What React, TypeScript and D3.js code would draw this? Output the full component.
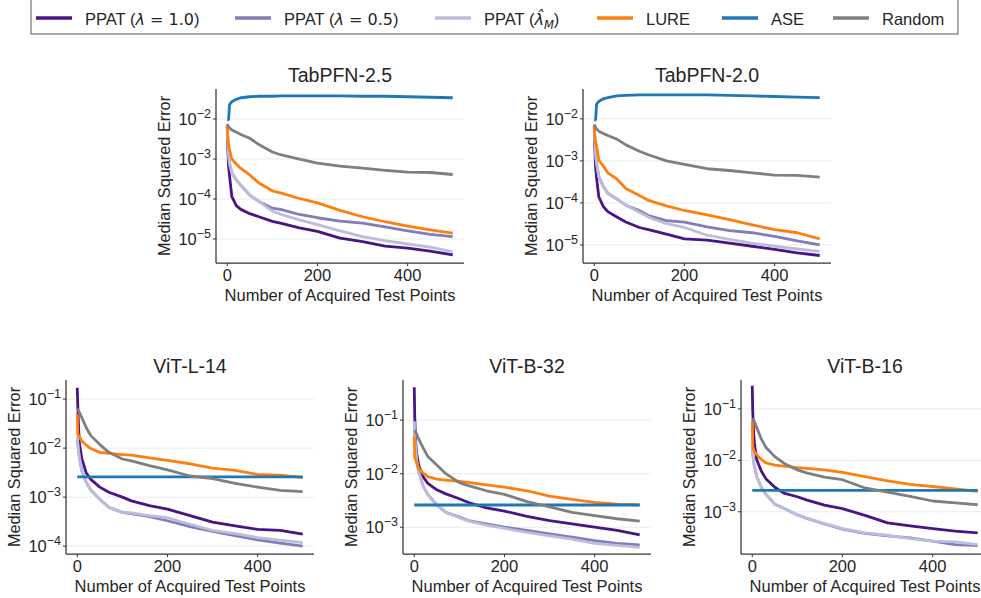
import React, { useEffect, useRef } from 'react';
import * as d3 from 'd3';

const acquired = [0, 1, 3, 5, 10, 20, 30, 50, 70, 100, 120, 160, 200, 250, 300, 350, 400, 450, 500];

// TabPFN-2.5
const tab25Ppat10 = [0.0065, 0.002, 0.00065, 0.00038, 0.000117, 0.000068, 0.000055, 0.000043, 0.000036, 0.0000275, 0.0000245, 0.000019, 0.0000155, 0.0000105, 0.0000086, 0.0000066, 0.0000059, 0.000005, 0.000004];
const tab25Ppat05 = [0.0065, 0.003, 0.0012, 0.0008, 0.00045, 0.0003, 0.00022, 0.000125, 0.000087, 0.000059, 0.000054, 0.000041, 0.000034, 0.000028, 0.000025, 0.00002, 0.000016, 0.000013, 0.0000115];
const tab25PpatHat = [0.0065, 0.003, 0.0012, 0.0008, 0.00045, 0.0003, 0.00022, 0.000125, 0.000087, 0.00005, 0.000041, 0.00003, 0.000023, 0.000016, 0.0000115, 0.0000091, 0.0000075, 0.0000063, 0.0000048];
const tab25Lure = [0.007, 0.004, 0.0022, 0.0017, 0.001, 0.00075, 0.00058, 0.0004, 0.00025, 0.00016, 0.00014, 0.000103, 0.00008, 0.000052, 0.000036, 0.000027, 0.000021, 0.000017, 0.000014];
const tab25Ase = [0.0095, 0.0095, 0.0098, 0.023, 0.027, 0.031, 0.034, 0.036, 0.037, 0.037, 0.038, 0.038, 0.038, 0.038, 0.037, 0.037, 0.036, 0.035, 0.034];
const tab25Random = [0.0075, 0.007, 0.0064, 0.006, 0.0053, 0.0047, 0.0041, 0.0033, 0.0023, 0.0015, 0.00126, 0.00099, 0.00079, 0.00066, 0.00059, 0.00052, 0.00047, 0.00046, 0.00041];

// TabPFN-2.0
const tab20Ppat10 = [0.0065, 0.0022, 0.0007, 0.0004, 0.00014, 0.000082, 0.000062, 0.000046, 0.000035, 0.000026, 0.000023, 0.000018, 0.000014, 0.000013, 0.000011, 0.0000093, 0.0000078, 0.0000065, 0.0000056];
const tab20Ppat05 = [0.0065, 0.0035, 0.0014, 0.0009, 0.00042, 0.00025, 0.00017, 0.000125, 0.000088, 0.000066, 0.00005, 0.000038, 0.000035, 0.000027, 0.000022, 0.0000195, 0.000016, 0.0000125, 0.00001];
const tab20PpatHat = [0.0065, 0.0035, 0.0014, 0.0009, 0.00042, 0.00025, 0.00017, 0.000125, 0.000088, 0.00006, 0.000046, 0.000032, 0.000026, 0.000017, 0.0000135, 0.000011, 0.0000093, 0.000008, 0.000007];
const tab20Lure = [0.0073, 0.004, 0.0028, 0.0023, 0.00105, 0.00075, 0.00052, 0.00037, 0.00022, 0.00015, 0.000115, 0.000085, 0.000066, 0.000052, 0.00004, 0.00003, 0.000023, 0.0000195, 0.000014];
const tab20Ase = [0.0093, 0.0093, 0.0096, 0.022, 0.026, 0.03, 0.032, 0.035, 0.036, 0.037, 0.037, 0.037, 0.037, 0.037, 0.036, 0.035, 0.034, 0.033, 0.032];
const tab20Random = [0.0073, 0.0068, 0.0062, 0.0058, 0.0051, 0.0045, 0.004, 0.0033, 0.0024, 0.0017, 0.0014, 0.001, 0.00083, 0.00065, 0.00059, 0.00052, 0.00046, 0.00045, 0.00041];

// ViT-L-14
const vitL14Ppat10 = [0.17, 0.08, 0.025, 0.012, 0.0062, 0.0031, 0.0023, 0.0016, 0.00126, 0.001, 0.00084, 0.00067, 0.00057, 0.00042, 0.00031, 0.00026, 0.00022, 0.00021, 0.000175];
const vitL14Ppat05 = [0.017, 0.013, 0.0085, 0.0063, 0.0035, 0.002, 0.0014, 0.0009, 0.00062, 0.00049, 0.00046, 0.0004, 0.00033, 0.00025, 0.0002, 0.000165, 0.000135, 0.000115, 0.0001];
const vitL14PpatHat = [0.017, 0.013, 0.0085, 0.0063, 0.0035, 0.002, 0.0014, 0.0009, 0.00062, 0.00049, 0.00048, 0.00042, 0.00038, 0.00028, 0.00021, 0.00018, 0.00015, 0.000133, 0.000118];
const vitL14Lure = [0.05, 0.019, 0.018, 0.017, 0.014, 0.0115, 0.0098, 0.0082, 0.0078, 0.0074, 0.0072, 0.0063, 0.0056, 0.0048, 0.0039, 0.0035, 0.0029, 0.0028, 0.0025];
const vitL14Ase = [0.0026, 0.0026, 0.0026, 0.0026, 0.0026, 0.0026, 0.0026, 0.0026, 0.0026, 0.0026, 0.0026, 0.0026, 0.0026, 0.0026, 0.0026, 0.0026, 0.0026, 0.0026, 0.0026];
const vitL14Random = [0.063, 0.062, 0.058, 0.053, 0.042, 0.026, 0.018, 0.0118, 0.0082, 0.006, 0.0055, 0.0044, 0.0036, 0.0027, 0.0024, 0.0019, 0.0016, 0.00138, 0.0013];

// ViT-B-32
const vitB32Ppat10 = [0.41, 0.12, 0.04, 0.025, 0.014, 0.0087, 0.0066, 0.005, 0.0042, 0.0034, 0.0029, 0.0023, 0.002, 0.0016, 0.00133, 0.00115, 0.001, 0.00087, 0.00072];
const vitB32Ppat05 = [0.095, 0.05, 0.03, 0.018, 0.0106, 0.0058, 0.0041, 0.0026, 0.0019, 0.00155, 0.00133, 0.00115, 0.001, 0.00087, 0.00075, 0.00065, 0.00056, 0.0005, 0.00047];
const vitB32PpatHat = [0.095, 0.05, 0.03, 0.018, 0.0106, 0.0058, 0.0041, 0.0026, 0.0019, 0.0015, 0.0013, 0.0011, 0.00095, 0.0008, 0.00069, 0.0006, 0.0005, 0.00046, 0.00042];
const vitB32Lure = [0.051, 0.02, 0.018, 0.016, 0.0123, 0.0102, 0.0088, 0.0079, 0.0076, 0.0072, 0.0069, 0.0062, 0.0056, 0.0048, 0.0038, 0.0033, 0.0029, 0.0027, 0.0026];
const vitB32Ase = [0.0026, 0.0026, 0.0026, 0.0026, 0.0026, 0.0026, 0.0026, 0.0026, 0.0026, 0.0026, 0.0026, 0.0026, 0.0026, 0.0026, 0.0026, 0.0026, 0.0026, 0.0026, 0.0026];
const vitB32Random = [0.063, 0.063, 0.06, 0.056, 0.044, 0.03, 0.021, 0.0145, 0.01, 0.0068, 0.006, 0.0048, 0.0041, 0.003, 0.0024, 0.0019, 0.00165, 0.00144, 0.0013];

// ViT-B-16
const vitB16Ppat10 = [0.28, 0.09, 0.035, 0.02, 0.0102, 0.0062, 0.0044, 0.003, 0.0023, 0.00196, 0.0017, 0.00135, 0.00115, 0.00085, 0.00061, 0.00053, 0.00047, 0.00042, 0.00039];
const vitB16Ppat05 = [0.0186, 0.015, 0.009, 0.0075, 0.0048, 0.003, 0.0022, 0.0014, 0.00117, 0.00087, 0.00075, 0.00058, 0.00046, 0.00038, 0.00034, 0.00031, 0.00027, 0.00023, 0.00022];
const vitB16PpatHat = [0.0186, 0.015, 0.009, 0.0075, 0.0048, 0.003, 0.0022, 0.0014, 0.00117, 0.00087, 0.00076, 0.00059, 0.00047, 0.00039, 0.00035, 0.0003, 0.00027, 0.00026, 0.00023];
const vitB16Lure = [0.057, 0.0186, 0.016, 0.0145, 0.0129, 0.0104, 0.0089, 0.0081, 0.0077, 0.0072, 0.007, 0.0065, 0.0058, 0.0048, 0.004, 0.0034, 0.0031, 0.0028, 0.0025];
const vitB16Ase = [0.0026, 0.0026, 0.0026, 0.0026, 0.0026, 0.0026, 0.0026, 0.0026, 0.0026, 0.0026, 0.0026, 0.0026, 0.0026, 0.0026, 0.0026, 0.0026, 0.0026, 0.0026, 0.0026];
const vitB16Random = [0.064, 0.063, 0.06, 0.056, 0.043, 0.026, 0.018, 0.0118, 0.0088, 0.0065, 0.0057, 0.0047, 0.0042, 0.0029, 0.0024, 0.002, 0.00162, 0.00149, 0.00137];

const xTicks = [0, 200, 400];

const methods = [
  { key: 'ppat10', color: '#4a1486' },
  { key: 'ppat05', color: '#807dba' },
  { key: 'ppatHat', color: '#bcbddc' },
  { key: 'lure', color: '#ff7f0e' },
  { key: 'ase', color: '#1f77b4' },
  { key: 'random', color: '#7f7f7f' },
];

const panels = [
  { title: 'TabPFN-2.5', left: 216, top: 89, yExp: [-5.6, -1.25],
    series: { ppat10: tab25Ppat10, ppat05: tab25Ppat05, ppatHat: tab25PpatHat, lure: tab25Lure, ase: tab25Ase, random: tab25Random } },
  { title: 'TabPFN-2.0', left: 583, top: 89, yExp: [-5.43, -1.29],
    series: { ppat10: tab20Ppat10, ppat05: tab20Ppat05, ppatHat: tab20PpatHat, lure: tab20Lure, ase: tab20Ase, random: tab20Random } },
  { title: 'ViT-L-14', left: 66, top: 380, yExp: [-4.16, -0.61],
    series: { ppat10: vitL14Ppat10, ppat05: vitL14Ppat05, ppatHat: vitL14PpatHat, lure: vitL14Lure, ase: vitL14Ase, random: vitL14Random } },
  { title: 'ViT-B-32', left: 403, top: 380, yExp: [-3.5, -0.25],
    series: { ppat10: vitB32Ppat10, ppat05: vitB32Ppat05, ppatHat: vitB32PpatHat, lure: vitB32Lure, ase: vitB32Ase, random: vitB32Random } },
  { title: 'ViT-B-16', left: 741, top: 380, yExp: [-3.82, -0.44],
    series: { ppat10: vitB16Ppat10, ppat05: vitB16Ppat05, ppatHat: vitB16PpatHat, lure: vitB16Lure, ase: vitB16Ase, random: vitB16Random } },
];

const FONT = '"Liberation Sans", Arial, sans-serif';
const MATH = '"DejaVu Sans", sans-serif';
const TEXT = '#262626';
const PW = 248;
const PH = 174;

const Chart = () => {
  const svgRef = useRef(null);

  useEffect(() => {
    const svg = d3.select(svgRef.current);
    svg.selectAll('*').remove();

    // legend
    const legendX = [36, 235, 435, 597, 722, 833];
    const legendLabels = [
      [{ t: 'PPAT (' }, { t: 'λ', it: true }, { t: ' = 1.0', math: true }, { t: ')' }],
      [{ t: 'PPAT (' }, { t: 'λ', it: true }, { t: ' = 0.5', math: true }, { t: ')' }],
      [{ t: 'PPAT (' }, { t: 'λ\u0302', it: true }, { t: 'M', it: true, sub: true }, { t: ')', up: true }],
      [{ t: 'LURE' }],
      [{ t: 'ASE' }],
      [{ t: 'Random' }],
    ];
    const legend = svg.append('g');
    legend.append('rect')
      .attr('x', 31).attr('y', -1).attr('width', 927).attr('height', 35)
      .attr('fill', 'white').attr('stroke', '#555').attr('stroke-width', 1);
    methods.forEach((m, i) => {
      const x0 = legendX[i];
      legend.append('line')
        .attr('x1', x0).attr('x2', x0 + 36).attr('y1', 18).attr('y2', 18)
        .attr('stroke', m.color).attr('stroke-width', 3.4);
      const txt = legend.append('text')
        .attr('x', x0 + 49).attr('y', 25)
        .attr('font-family', FONT).attr('font-size', 16.5).attr('fill', TEXT);
      legendLabels[i].forEach(part => {
        const ts = txt.append('tspan').text(part.t);
        if (part.it) ts.attr('font-family', MATH).attr('font-style', 'italic').attr('font-size', 16);
        if (part.math) ts.attr('font-family', MATH).attr('font-size', 16).style('white-space', 'pre');
        if (part.sub) ts.attr('font-size', 11.5).attr('dy', 4);
        if (part.up) ts.attr('dy', -4);
      });
    });

    panels.forEach(p => {
      const g = svg.append('g');
      const bottom = p.top + PH;
      const x = d3.scaleLinear().domain([-25, 525]).range([p.left, p.left + PW]);
      const y = d3.scaleLog().domain([10 ** p.yExp[0], 10 ** p.yExp[1]]).range([bottom, p.top]);
      const exps = d3.range(Math.ceil(p.yExp[0]), Math.floor(p.yExp[1]) + 1);

      // horizontal grid
      g.selectAll('.grid').data(exps).enter().append('line')
        .attr('x1', p.left).attr('x2', p.left + PW)
        .attr('y1', e => y(10 ** e)).attr('y2', e => y(10 ** e))
        .attr('stroke', '#ebebeb').attr('stroke-width', 1);

      // curves
      const line = d3.line()
        .x(d => x(d[0]))
        .y(d => y(d[1]));
      methods.forEach(m => {
        const pts = acquired.map((a, i) => [a, p.series[m.key][i]]);
        g.append('path')
          .attr('d', line(pts))
          .attr('fill', 'none')
          .attr('stroke', m.color)
          .attr('stroke-width', 2.8)
          .attr('stroke-linejoin', 'round');
      });

      // spines
      g.append('line').attr('x1', p.left).attr('x2', p.left).attr('y1', p.top).attr('y2', bottom)
        .attr('stroke', '#333').attr('stroke-width', 1.25);
      g.append('line').attr('x1', p.left).attr('x2', p.left + PW).attr('y1', bottom).attr('y2', bottom)
        .attr('stroke', '#333').attr('stroke-width', 1.25);

      // x ticks
      xTicks.forEach(t => {
        g.append('line').attr('x1', x(t)).attr('x2', x(t)).attr('y1', bottom).attr('y2', bottom + 3)
          .attr('stroke', '#333').attr('stroke-width', 1);
        g.append('text').attr('x', x(t)).attr('y', bottom + 18)
          .attr('text-anchor', 'middle').attr('font-family', FONT).attr('font-size', 16.5).attr('fill', TEXT)
          .text(t);
      });

      // y ticks
      exps.forEach(e => {
        const yy = y(10 ** e);
        g.append('line').attr('x1', p.left - 3).attr('x2', p.left).attr('y1', yy).attr('y2', yy)
          .attr('stroke', '#333').attr('stroke-width', 1);
        const t = g.append('text').attr('x', p.left - 5).attr('y', yy + 6)
          .attr('text-anchor', 'end').attr('font-family', FONT).attr('font-size', 16.5).attr('fill', TEXT);
        t.append('tspan').text('10');
        t.append('tspan').attr('font-size', 12.5).attr('dy', -7).text('\u2212' + Math.abs(e));
      });

      // labels
      g.append('text').attr('x', p.left + PW / 2).attr('y', p.top - 7)
        .attr('text-anchor', 'middle').attr('font-family', FONT).attr('font-size', 19.5).attr('fill', TEXT)
        .text(p.title);
      g.append('text').attr('x', p.left + PW / 2).attr('y', bottom + 38)
        .attr('text-anchor', 'middle').attr('font-family', FONT).attr('font-size', 16.5).attr('fill', TEXT)
        .text('Number of Acquired Test Points');
      g.append('text')
        .attr('transform', `translate(${p.left - 46},${(p.top + bottom) / 2}) rotate(-90)`)
        .attr('text-anchor', 'middle').attr('font-family', FONT).attr('font-size', 16.3).attr('fill', TEXT)
        .text('Median Squared Error');
    });
  }, []);

  return (
    <svg ref={svgRef} width={981} height={598}
      style={{ position: 'absolute', left: 0, top: 0, background: 'white' }} />
  );
};

export default function App() {
  return <Chart />;
}
